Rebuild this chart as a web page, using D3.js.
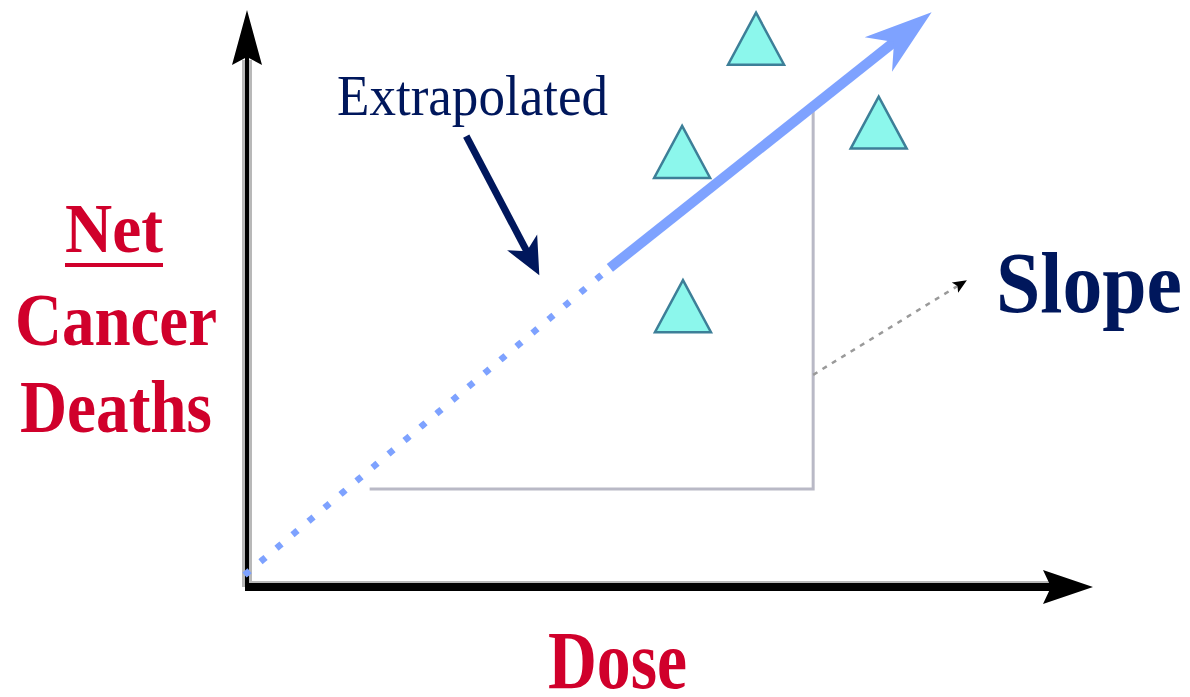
<!DOCTYPE html>
<html>
<head>
<meta charset="utf-8">
<script src="https://cdn.jsdelivr.net/npm/d3@7"></script>
<style>
  html, body { margin: 0; padding: 0; background: #fff; }
  svg { display: block; }
</style>
</head>
<body>
<div id="chart"></div>
<script>
// Data (dose vs net cancer deaths, arbitrary units 0-100)
const observedDose   = [60.6, 51.8, 75.2, 51.9];
const observedDeaths = [94.9, 74.8, 80.0, 47.4];

// Extrapolated line: dotted part through the origin, solid part through the data
const dottedDose   = [0, 43.2];
const dottedDeaths = [0, 54.2];
const solidDose    = [43.2, 81.5];
const solidDeaths  = [54.2, 99.6];

// Slope triangle (rise over run) and pointer to the label
const slopeRunDose   = [14.6, 67.4];
const slopeBaseDeath = 14.9;
const slopeTopDeath  = 82.6;
const slopePointerDose   = [67.4, 85.7];
const slopePointerDeaths = [35.2, 52.0];

// Pointer from the "Extrapolated" label
const extrapPointerDose   = [26.1, 34.8];
const extrapPointerDeaths = [77.6, 52.9];

const width = 1190, height = 697;

const x = d3.scaleLinear().domain([0, 100]).range([247, 1087]);
const y = d3.scaleLinear().domain([0, 100]).range([573, 10]);

const red = "#d0002b";
const navy = "#00175c";
const blue = "#7ea2ff";

const svg = d3.select("#chart")
  .append("svg")
    .attr("width", width)
    .attr("height", height)
    .attr("viewBox", `0 0 ${width} ${height}`);

// arrow head polygon: tip, length along the line, half width, notch depth
const arrowHead = (x0, y0, x1, y1, len, half, notch) => {
  const dx = x1 - x0, dy = y1 - y0;
  const d = Math.hypot(dx, dy);
  const ux = dx / d, uy = dy / d;
  const nx = -uy, ny = ux;
  const pts = [
    [x1, y1],
    [x1 - ux * len + nx * half, y1 - uy * len + ny * half],
    [x1 - ux * notch, y1 - uy * notch],
    [x1 - ux * len - nx * half, y1 - uy * len - ny * half]
  ];
  return "M" + pts.map(p => p.join(",")).join("L") + "Z";
};
// point where the shaft should stop
const shaftEnd = (x0, y0, x1, y1, back) => {
  const d = Math.hypot(x1 - x0, y1 - y0);
  return [x1 - (x1 - x0) / d * back, y1 - (y1 - y0) / d * back];
};

//Axes
const axisY = y(0) + 14;
const axisX = x(0);
const yTop = 10, xRight = 1093;

const axes = svg.append("g");
// grey halo lines
axes.append("line")
    .attr("x1", axisX).attr("x2", axisX)
    .attr("y1", 60).attr("y2", axisY)
    .attr("stroke", "#b8b8b8").attr("stroke-width", 10);
axes.append("line")
    .attr("x1", axisX).attr("x2", 1050)
    .attr("y1", axisY - 4).attr("y2", axisY - 4)
    .attr("stroke", "#b8b8b8").attr("stroke-width", 4);
// black lines
axes.append("line")
    .attr("x1", axisX).attr("x2", axisX)
    .attr("y1", 50).attr("y2", axisY + 4)
    .attr("stroke", "#000").attr("stroke-width", 4);
axes.append("line")
    .attr("x1", axisX - 2).attr("x2", 1055)
    .attr("y1", axisY).attr("y2", axisY)
    .attr("stroke", "#000").attr("stroke-width", 8);
axes.append("path")
    .attr("d", arrowHead(axisX, 300, axisX, yTop, 55, 15, 47))
    .attr("fill", "#000");
axes.append("path")
    .attr("d", arrowHead(600, axisY, xRight, axisY, 50, 17, 42))
    .attr("fill", "#000");

//Slope box
svg.append("path")
    .attr("d", `M${x(slopeRunDose[0])},${y(slopeBaseDeath)}H${x(slopeRunDose[1])}V${y(slopeTopDeath)}`)
    .attr("fill", "none")
    .attr("stroke", "#b9b9c6")
    .attr("stroke-width", 3);

//Slope pointer (dashed grey with small black head)
{
  const [x0, x1] = slopePointerDose.map(x);
  const [y0, y1] = slopePointerDeaths.map(y);
  const [ex, ey] = shaftEnd(x0, y0, x1, y1, 8);
  svg.append("line")
      .attr("x1", x0).attr("y1", y0).attr("x2", ex).attr("y2", ey)
      .attr("stroke", "#9a9a9a")
      .attr("stroke-width", 2.5)
      .attr("stroke-dasharray", "5,6");
  svg.append("path")
      .attr("d", arrowHead(x0, y0, x1, y1, 14, 6, 11))
      .attr("fill", "#000");
}

//Dotted extrapolation
const dotted = d3.range(dottedDose.length).map(i => [dottedDose[i], dottedDeaths[i]]);
svg.append("path")
    .attr("d", d3.line().x(d => x(d[0])).y(d => y(d[1]))(dotted))
    .attr("fill", "none")
    .attr("stroke", blue)
    .attr("stroke-width", 6.5)
    .attr("stroke-dasharray", "0.1,20.8")
    .attr("stroke-linecap", "square");

//Solid fitted line with arrow
{
  const [x0, x1] = solidDose.map(x);
  const [y0, y1] = solidDeaths.map(y);
  const [ex, ey] = shaftEnd(x0, y0, x1, y1, 45);
  svg.append("line")
      .attr("x1", x0).attr("y1", y0).attr("x2", ex).attr("y2", ey)
      .attr("stroke", blue)
      .attr("stroke-width", 10);
  svg.append("path")
      .attr("d", arrowHead(x0, y0, x1, y1, 68, 22, 48))
      .attr("fill", blue);
}

//Observed data triangles
const triW = 56, triH = 52;
svg.selectAll(".obs")
  .data(observedDose.map((d, i) => ({ dose: d, deaths: observedDeaths[i] })))
  .join("path")
    .attr("class", "obs")
    .attr("transform", d => `translate(${x(d.dose)}, ${y(d.deaths)})`)
    .attr("d", `M0,${-triH / 2}L${triW / 2},${triH / 2}L${-triW / 2},${triH / 2}Z`)
    .attr("fill", "#8cf7ec")
    .attr("stroke", "#3d7f98")
    .attr("stroke-width", 2.5)
    .attr("stroke-linejoin", "miter");

//Extrapolated pointer
{
  const [x0, x1] = extrapPointerDose.map(x);
  const [y0, y1] = extrapPointerDeaths.map(y);
  const [ex, ey] = shaftEnd(x0, y0, x1, y1, 26);
  svg.append("line")
      .attr("x1", x0).attr("y1", y0).attr("x2", ex).attr("y2", ey)
      .attr("stroke", navy)
      .attr("stroke-width", 7);
  svg.append("path")
      .attr("d", arrowHead(x0, y0, x1, y1, 37, 17, 27))
      .attr("fill", navy);
}

//Labels
const serif = "'Liberation Serif', 'Times New Roman', serif";
const label = (txt, px, py, size, weight, color, len) =>
  svg.append("text")
      .text(txt)
      .attr("x", px)
      .attr("y", py)
      .attr("textLength", len)
      .attr("lengthAdjust", "spacingAndGlyphs")
      .attr("fill", color)
      .style("font-family", serif)
      .style("font-size", `${size}px`)
      .style("font-weight", weight);

label("Extrapolated", 337, 115, 57, 400, navy, 271);
label("Slope", 996, 312, 86, 700, navy, 186);
label("Net", 65, 252, 70, 700, red, 98);
svg.append("rect")
    .attr("x", 65).attr("y", 263)
    .attr("width", 98).attr("height", 4)
    .attr("fill", red);
label("Cancer", 15, 345, 74, 700, red, 202);
label("Deaths", 20, 432, 73, 700, red, 192);
label("Dose", 548, 688, 82, 700, red, 139);
</script>
</body>
</html>
